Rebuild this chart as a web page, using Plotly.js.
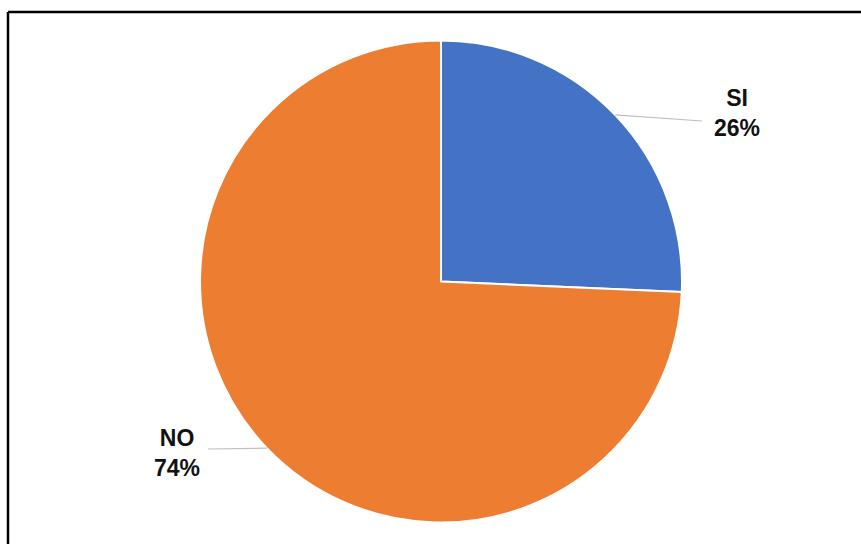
<!DOCTYPE html>
<html>
<head>
<meta charset="utf-8">
<script src="https://cdn.plot.ly/plotly-3.0.1.min.js"></script>
<style>html,body{margin:0;padding:0;background:#fff;}#chart{width:861px;height:544px;}</style>
</head>
<body>
<div id="chart"></div>
<script>
const categories = ['SI', 'NO'];
const values = [25.7, 74.3];
const percentLabels = ['26%', '74%'];
const colors = ['#4472C4', '#ED7D31'];

const W = 861, H = 544;
const cx = 441, cy = 281.5, R = 241;
// label placement (pixel offsets relative to slice mid-point on the rim)
const leaderEnds = [[702, 121], [208, 449]];
const textCenters = [[737, 113], [177, 453]];

const px = x => x / W;
const py = y => 1 - y / H;

const total = values.reduce((a, b) => a + b, 0);
let cum = 0;
const shapes = [];
const annotations = [];
values.forEach((v, i) => {
  const mid = (cum + v / 2) / total * 2 * Math.PI; // clockwise from top
  cum += v;
  const sx = cx + R * Math.sin(mid);
  const sy = cy - R * Math.cos(mid);
  shapes.push({
    type: 'line', xref: 'paper', yref: 'paper',
    x0: px(sx), y0: py(sy), x1: px(leaderEnds[i][0]), y1: py(leaderEnds[i][1]),
    line: {color: '#BFBFBF', width: 1.2}
  });
  annotations.push({
    xref: 'paper', yref: 'paper',
    x: px(textCenters[i][0]), y: py(textCenters[i][1]),
    xanchor: 'center', yanchor: 'middle', align: 'center',
    showarrow: false,
    text: '<b>' + categories[i] + '</b><br><b>' + percentLabels[i] + '</b>',
    font: {family: '"Liberation Sans", Arial, sans-serif', size: 23, color: '#111111'}
  });
});

// frame (left and top border)
shapes.push({type: 'line', xref: 'paper', yref: 'paper', x0: px(8), y0: py(12), x1: px(8), y1: 0, line: {color: '#000', width: 2.5}});
shapes.push({type: 'line', xref: 'paper', yref: 'paper', x0: px(8), y0: py(12), x1: 1, y1: py(12), line: {color: '#000', width: 2.5}});

const trace = {
  type: 'pie',
  labels: categories,
  values: values,
  sort: false,
  direction: 'clockwise',
  rotation: 0,
  marker: {colors: colors, line: {color: '#FFFFFF', width: 2}},
  textinfo: 'none',
  hoverinfo: 'none',
  showlegend: false,
  domain: {x: [px(cx - R), px(cx + R)], y: [py(cy + R), py(cy - R)]}
};

const layout = {
  width: W, height: H,
  margin: {l: 0, r: 0, t: 0, b: 0},
  paper_bgcolor: '#FFFFFF',
  plot_bgcolor: '#FFFFFF',
  showlegend: false,
  shapes: shapes,
  annotations: annotations
};

Plotly.newPlot('chart', [trace], layout, {displayModeBar: false, staticPlot: true});
</script>
</body>
</html>
